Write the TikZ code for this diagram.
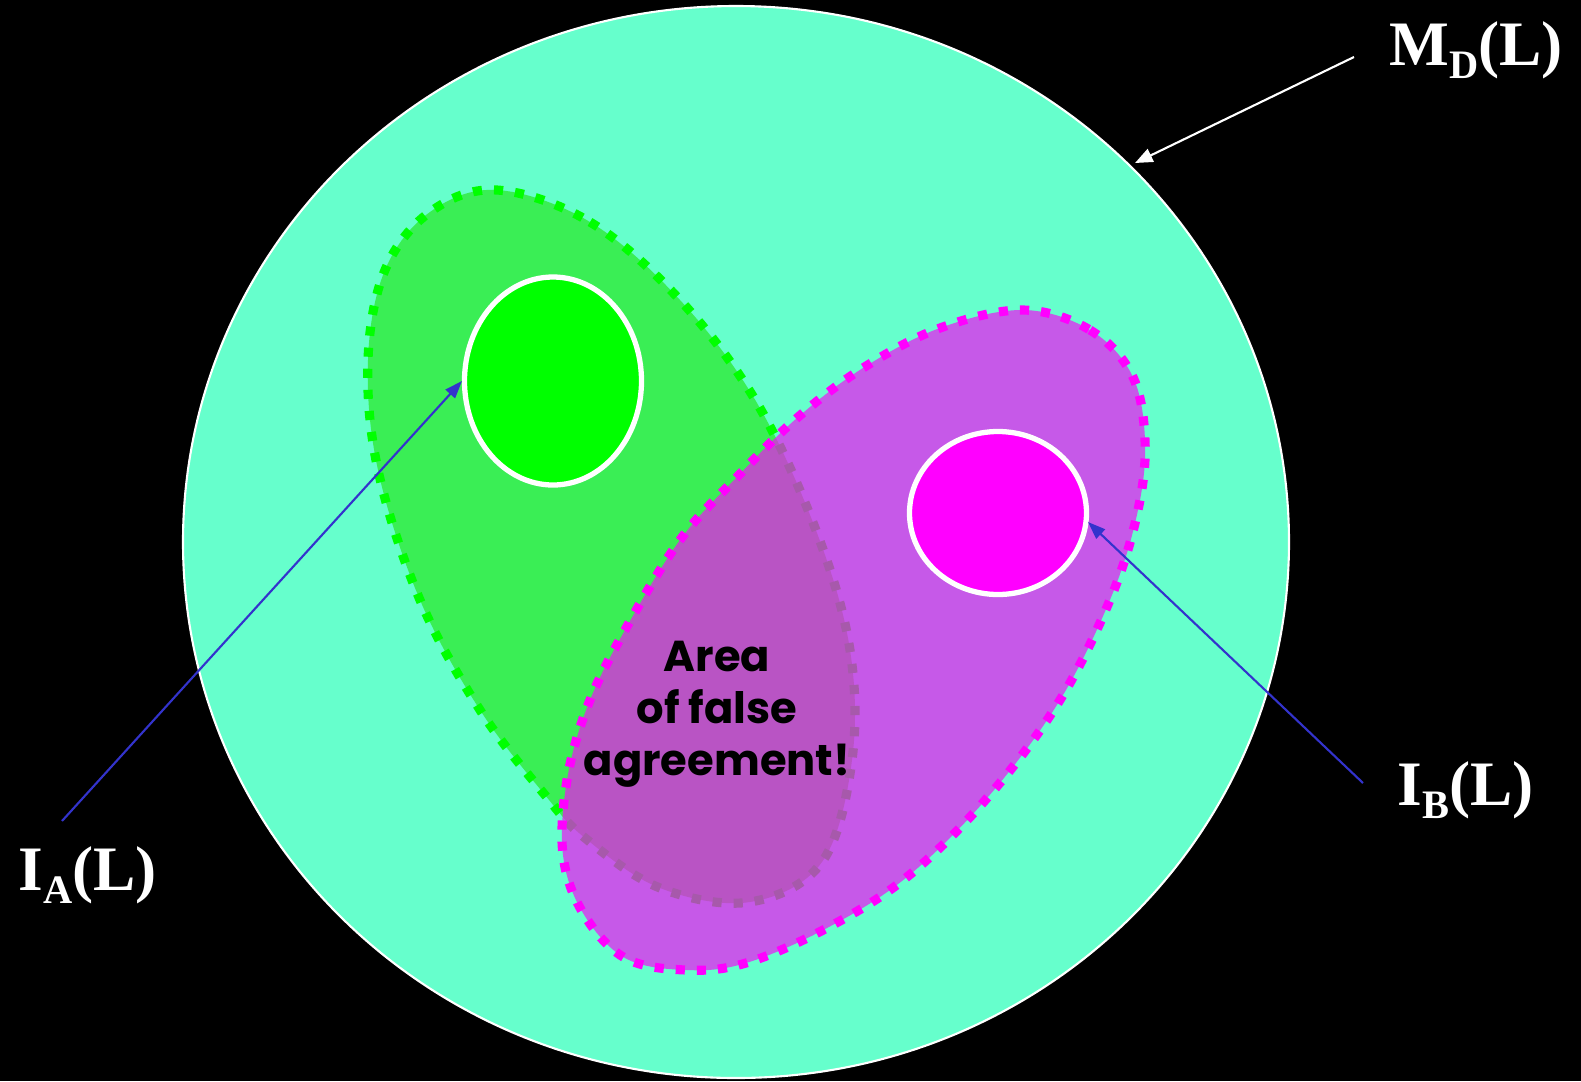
\documentclass[tikz,border=0pt]{standalone}
\usepackage{fontspec}
\setmainfont{Liberation Serif}
\newfontfamily\comicfont{Poppins}
\usetikzlibrary{arrows.meta}
\definecolor{bgcyan}{HTML}{66FFCC}
\definecolor{blobgreen}{HTML}{3AEE55}
\definecolor{puregreen}{HTML}{00FF00}
\definecolor{puremag}{HTML}{FF00FF}
\definecolor{blobmag}{RGB}{239,19,244}
\definecolor{arrowblue}{HTML}{3333CC}
\tikzset{
  dotborder/.style={line width=2.6pt, dash pattern=on 2.6pt off 3.4pt},
  innerell/.style={draw=white, line width=1.5pt},
  bluearrow/.style={draw=arrowblue, line width=0.6pt, -{Triangle[length=5pt,width=3.6pt]}},
  whitearrow/.style={draw=white, line width=0.6pt, -{Triangle[length=5pt,width=4pt]}},
  biglabel/.style={text=white, font=\fontsize{18}{20}\selectfont\bfseries, inner sep=0pt, anchor=base west},
}
\newcommand{\sublab}[1]{\raisebox{-3.8pt}{\fontsize{11.5}{12}\selectfont #1}}
\begin{document}
\begin{tikzpicture}[x=0.01cm,y=-0.01cm]
\fill[black] (0,0) rectangle (1581,1081);
\useasboundingbox (0,0) rectangle (1581,1081);
\begin{scope}
\clip (0,0) rectangle (1581,1081);
% big circle
\path[fill=bgcyan, draw=white, line width=0.6pt] (736,542) ellipse [x radius=553, y radius=536];
\coordinate (md) at (1135,163);
% green blob
\path[fill=blobgreen] plot[smooth cycle, tension=0.6] coordinates {
 (497,190) (590,222) (680,300) (757,403) (817,533) (850,650) (852,760)
 (822,862) (750,902) (660,888) (585,838) (545,795) (480,710) (420,600)
 (378,470) (368,360) (385,270) (430,212)};
\draw[puregreen, dotborder] plot[smooth cycle, tension=0.6] coordinates {
 (497,190) (590,222) (680,300) (757,403) (817,533) (850,650) (852,760)
 (822,862) (750,902) (660,888) (585,838) (545,795) (480,710) (420,600)
 (378,470) (368,360) (385,270) (430,212)};
% green inner
\path[fill=puregreen, innerell] (553,381) ellipse [x radius=88.5, y radius=104];
\coordinate (gaw) at (462,381);
% magenta blob
\path[fill=blobmag, fill opacity=0.7] plot[smooth cycle, tension=0.6] coordinates {
 (1023,310) (1090,330) (1132,375) (1145,440) (1138,510) (1112,595) (1060,700)
 (988,797) (907,877) (827,928) (746,963) (686,970) (625,958) (583,913)
 (563,855) (567,780) (588,705) (625,630) (680,540) (737,477) (797,418)
 (863,368) (940,328)};
\draw[puremag, dotborder] plot[smooth cycle, tension=0.6] coordinates {
 (1023,310) (1090,330) (1132,375) (1145,440) (1138,510) (1112,595) (1060,700)
 (988,797) (907,877) (827,928) (746,963) (686,970) (625,958) (583,913)
 (563,855) (567,780) (588,705) (625,630) (680,540) (737,477) (797,418)
 (863,368) (940,328)};
% magenta inner
\path[fill=puremag, innerell] (998,513) ellipse [x radius=88.5, y radius=81.5];
\coordinate (mbe) at (1088,522);
% text
\node[font=\comicfont\bfseries\fontsize{12.3}{14.8}\selectfont, align=center, text=black] (area) at (717,714) {Area\\of false\\agreement!};
% labels
\node[biglabel] (mdl) at (1389,65) {M\sublab{D}(L)};
\node[biglabel] (ial) at (18,890) {I\sublab{A}(L)};
\node[biglabel] (ibl) at (1397,805) {I\sublab{B}(L)};
\coordinate (mdstart) at (1354,57);
\coordinate (iastart) at (62,821);
\coordinate (ibstart) at (1363,783);
\draw[whitearrow] (mdstart) -- (md);
\draw[bluearrow] (iastart) -- (gaw);
\draw[bluearrow] (ibstart) -- (mbe);
\end{scope}
\end{tikzpicture}
\end{document}
